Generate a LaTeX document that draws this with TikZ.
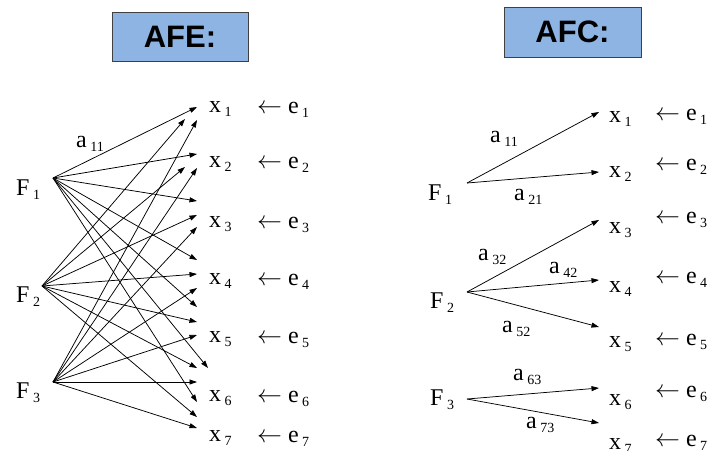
\documentclass[tikz,border=0pt]{standalone}
\usepackage{fontspec}
\setmainfont{Liberation Serif}
\newfontfamily\titlefont{Liberation Sans}
\usetikzlibrary{arrows.meta}
\newcommand\sbs[1]{\hspace{3.5pt}\raisebox{-4.5pt}{\fontsize{14}{14}\selectfont #1}}
\newcommand\larr{$\leftarrow$}
\tikzset{
  lbl/.style={inner sep=0pt, anchor=base west, font=\fontsize{24}{24}\selectfont},
  titlebox/.style={draw=black!75, line width=0.8pt, fill={rgb,255:red,142;green,180;blue,227},
    minimum width=136pt, minimum height=49pt, inner sep=0pt,
    font=\titlefont\bfseries\fontsize{31}{31}\selectfont},
  arr/.style={line width=0.75pt, -{Triangle[length=7.5pt,width=5pt]}}
}
\begin{document}
\begin{tikzpicture}[x=1pt,y=-1pt]
\useasboundingbox (0,0) rectangle (715,450);
% titles
\node[titlebox] (afe) at (180,36.5) {AFE:};
\node[titlebox, minimum width=137pt, minimum height=50pt] (afc) at (572.5,32) {AFC:};

% ---------- AFE ----------
\node[lbl] (EF1) at (16,195) {F\sbs{1}};
\node[lbl] (EF2) at (16,302) {F\sbs{2}};
\node[lbl] (EF3) at (16,398) {F\sbs{3}};
\coordinate (pE1) at (53,178);
\coordinate (pE2) at (42,286);
\coordinate (pE3) at (53,382);
\foreach \i/\b in {1/112,2/167,3/227,4/284,5/342,6/401,7/441}{
  \node[lbl] (Ex\i) at (209,\b) {x\sbs{\i}};
  \node[lbl] (Ee\i) at (257,\b+1) {\larr{} e\sbs{\i}};
}
% tips from F1
\foreach \i/\x/\y in {1/197/107,2/197/154,3/197/201,4/197/260,5/197/307,6/208/368,7/197/402}{
  \coordinate (tE1\i) at (\x,\y);
  \draw[arr] (pE1) -- (tE1\i);
}
% tips from F2
\foreach \i/\x/\y in {1/185/119,2/185/167,3/197/215,4/197/274,5/197/322,6/197/368,7/197/417}{
  \coordinate (tE2\i) at (\x,\y);
  \draw[arr] (pE2) -- (tE2\i);
}
% tips from F3
\foreach \i/\x/\y in {1/197/120,2/197/168,3/197/227,4/197/288,5/197/335,6/197/382,7/197/428}{
  \coordinate (tE3\i) at (\x,\y);
  \draw[arr] (pE3) -- (tE3\i);
}
\node[lbl] (Ea11) at (76,147) {a\sbs{11}};

% ---------- AFC ----------
\node[lbl] (CF1) at (428,200) {F\sbs{1}};
\node[lbl] (CF2) at (430,308) {F\sbs{2}};
\node[lbl] (CF3) at (430,405) {F\sbs{3}};
\coordinate (pC1) at (467,183);
\coordinate (pC2) at (467,292);
\coordinate (pC3) at (467,399);
\foreach \i/\b in {1/122,2/177,3/233,4/292,5/347,6/405,7/449}{
  \node[lbl] (Cx\i) at (609,\b) {x\sbs{\i}};
}
\foreach \i/\b in {1/120,2/170,3/223,4/283,5/345,6/397,7/446}{
  \node[lbl] (Ce\i) at (655,\b) {\larr{} e\sbs{\i}};
}
\coordinate (tC1) at (599,112);
\coordinate (tC2) at (599,172);
\coordinate (tC3) at (599,220);
\coordinate (tC4) at (599,280);
\coordinate (tC5) at (599,327);
\coordinate (tC6) at (599,388);
\coordinate (tC7) at (599,423);
\draw[arr] (pC1) -- (tC1);
\draw[arr] (pC1) -- (tC2);
\draw[arr] (pC2) -- (tC3);
\draw[arr] (pC2) -- (tC4);
\draw[arr] (pC2) -- (tC5);
\draw[arr] (pC3) -- (tC6);
\draw[arr] (pC3) -- (tC7);
\node[lbl] (Ca11) at (490,142) {a\sbs{11}};
\node[lbl] (Ca21) at (514,200) {a\sbs{21}};
\node[lbl] (Ca32) at (478,260) {a\sbs{32}};
\node[lbl] (Ca42) at (549,273) {a\sbs{42}};
\node[lbl] (Ca52) at (502,332) {a\sbs{52}};
\node[lbl] (Ca63) at (513,380) {a\sbs{63}};
\node[lbl] (Ca73) at (526,428) {a\sbs{73}};
\end{tikzpicture}
\end{document}
